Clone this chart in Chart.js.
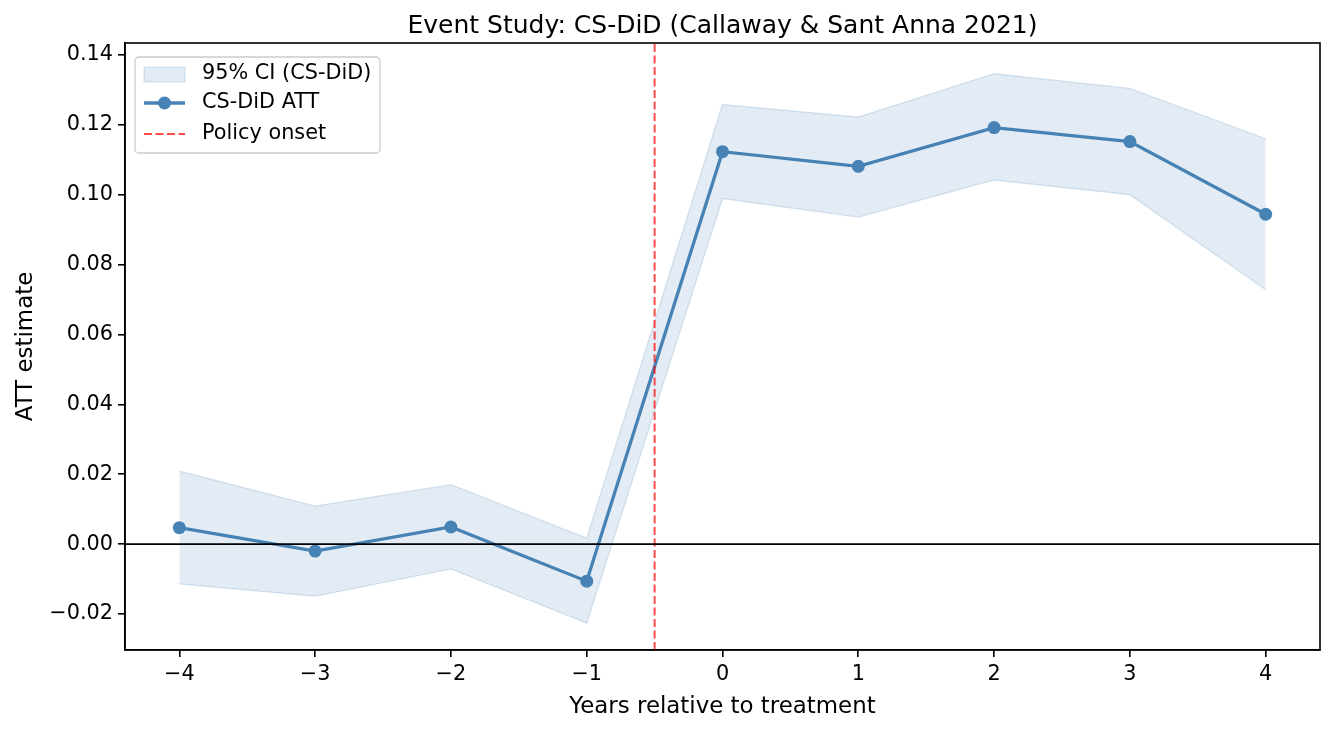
<!DOCTYPE html>
<html>
<head>
<meta charset="utf-8">
<script src="https://cdn.jsdelivr.net/npm/chart.js@4"></script>
<style>
  html, body { margin:0; padding:0; background:#fff; }
  #wrap { width:1336px; height:732px; }
</style>
</head>
<body>
<div id="wrap"><canvas id="es" width="1336" height="732"></canvas></div>
<script>
// event-study data
const years   = [-4, -3, -2, -1, 0, 1, 2, 3, 4];
const att     = [0.0047, -0.0020, 0.0049, -0.0106, 0.1123, 0.1081, 0.1192, 0.1152, 0.0944];
const ciUpper = [0.0209, 0.0109, 0.0170, 0.0017, 0.1258, 0.1222, 0.1346, 0.1304, 0.1160];
const ciLower = [-0.0114, -0.0149, -0.0071, -0.0226, 0.0989, 0.0936, 0.1042, 0.1000, 0.0728];
const yTicks  = [-0.02, 0.00, 0.02, 0.04, 0.06, 0.08, 0.10, 0.12, 0.14];
const onset   = -0.5;

const X_MIN = -4.4, X_MAX = 4.4;
const Y_MIN = -0.0303, Y_MAX = 0.1434;

const FONT = "'DejaVu Sans', sans-serif";
const BLUE = "#4682b4";
const RED = "rgba(255,0,0,0.7)";
const $ = (s) => document.querySelector(s);
const pts = (ys) => years.map((x, i) => ({x, y: ys[i]}));

// frame, title, legend
const decor = {
  id: "decor",
  afterDraw(chart){
    const {ctx, chartArea: a} = chart;
    ctx.save();
    ctx.strokeStyle = "#000"; ctx.lineWidth = 1.6;
    ctx.strokeRect(a.left, a.top, a.right - a.left, a.bottom - a.top);

    ctx.fillStyle = "#000";
    ctx.font = `25px ${FONT}`;
    ctx.textAlign = "center"; ctx.textBaseline = "middle";
    ctx.fillText("Event Study: CS-DiD (Callaway & Sant Anna 2021)", (a.left + a.right)/2, 26);

    // legend box
    const bx = a.left + 10, by = a.top + 14, bw = 245, bh = 96;
    ctx.fillStyle = "rgba(255,255,255,0.8)";
    ctx.strokeStyle = "#cccccc"; ctx.lineWidth = 1.3;
    ctx.beginPath(); ctx.roundRect(bx, by, bw, bh, 4); ctx.fill(); ctx.stroke();

    const hx = bx + 9, hw = 41;
    const rows = [by + 17, by + 46, by + 77];
    // CI patch
    ctx.fillStyle = "rgba(70,130,180,0.15)";
    ctx.strokeStyle = "rgba(70,130,180,0.2)"; ctx.lineWidth = 1.2;
    ctx.fillRect(hx, rows[0] - 7, hw, 15);
    ctx.strokeRect(hx, rows[0] - 7, hw, 15);
    // ATT line
    ctx.strokeStyle = BLUE; ctx.lineWidth = 3.3;
    ctx.beginPath(); ctx.moveTo(hx, rows[1]); ctx.lineTo(hx + hw, rows[1]); ctx.stroke();
    ctx.fillStyle = BLUE;
    ctx.beginPath(); ctx.arc(hx + hw/2, rows[1], 6.5, 0, Math.PI*2); ctx.fill();
    // onset line
    ctx.strokeStyle = RED; ctx.lineWidth = 2;
    ctx.setLineDash([8, 3.5]);
    ctx.beginPath(); ctx.moveTo(hx, rows[2]); ctx.lineTo(hx + hw, rows[2]); ctx.stroke();
    ctx.setLineDash([]);

    ctx.fillStyle = "#000";
    ctx.font = `20.8px ${FONT}`;
    ctx.textAlign = "left";
    ctx.fillText("95% CI (CS-DiD)", bx + 67, rows[0]);
    ctx.fillText("CS-DiD ATT", bx + 67, rows[1]);
    ctx.fillText("Policy onset", bx + 67, rows[2]);
    ctx.restore();
  }
};

new Chart($("#es").getContext("2d"), {
  type: "line",
  data: {
    datasets: [
      { data: [{x: X_MIN, y: 0}, {x: X_MAX, y: 0}], borderColor: "#000", borderWidth: 1.6,
        pointRadius: 0, order: 0 },
      { data: [{x: onset, y: Y_MIN}, {x: onset, y: Y_MAX}], borderColor: RED,
        borderWidth: 2, borderDash: [8, 3.5], pointRadius: 0, order: 1 },
      { label: "CS-DiD ATT", data: pts(att), borderColor: BLUE, backgroundColor: BLUE,
        borderWidth: 3.3, pointRadius: 6.5, pointBorderWidth: 0, pointBackgroundColor: BLUE, order: 2 },
      { data: pts(ciUpper), borderColor: "rgba(70,130,180,0.2)", borderWidth: 1.3,
        pointRadius: 0, fill: false, order: 4 },
      { label: "95% CI (CS-DiD)", data: pts(ciLower), borderColor: "rgba(70,130,180,0.2)", borderWidth: 1.3,
        pointRadius: 0, fill: "-1", backgroundColor: "rgba(70,130,180,0.15)", order: 3 }
    ]
  },
  options: {
    responsive: false,
    animation: false,
    layout: { padding: { top: 43, right: 16, left: 0, bottom: 0 } },
    plugins: { legend: { display: false }, tooltip: { enabled: false }, title: { display: false } },
    scales: {
      x: {
        type: "linear", min: X_MIN, max: X_MAX,
        afterBuildTicks: (s) => { s.ticks = years.map(v => ({value: v})); },
        afterFit: (s) => { s.height = 82; },
        ticks: { color: "#000", font: { family: FONT, size: 20.8 }, padding: 5,
                 callback: (v) => String(v).replace("-", "\u2212") },
        grid: { drawOnChartArea: false, drawTicks: true, tickLength: 7, lineWidth: 1.6, color: "#000" },
        border: { display: true, color: "#000", width: 1.6 },
        title: { display: true, text: "Years relative to treatment", color: "#000",
                 font: { family: FONT, size: 22.9 }, padding: { top: 4, bottom: 11 } }
      },
      y: {
        type: "linear", min: Y_MIN, max: Y_MAX,
        afterBuildTicks: (s) => { s.ticks = yTicks.map(v => ({value: v})); },
        afterFit: (s) => { s.width = 125; },
        ticks: { color: "#000", font: { family: FONT, size: 20.8 }, padding: 5,
                 callback: (v) => v.toFixed(2).replace("-", "\u2212") },
        grid: { drawOnChartArea: false, drawTicks: true, tickLength: 7, lineWidth: 1.6, color: "#000" },
        border: { display: true, color: "#000", width: 1.6 },
        title: { display: true, text: "ATT estimate", color: "#000",
                 font: { family: FONT, size: 22.9 }, padding: { top: 12, bottom: 4 } }
      }
    }
  },
  plugins: [decor]
});
</script>
</body>
</html>
